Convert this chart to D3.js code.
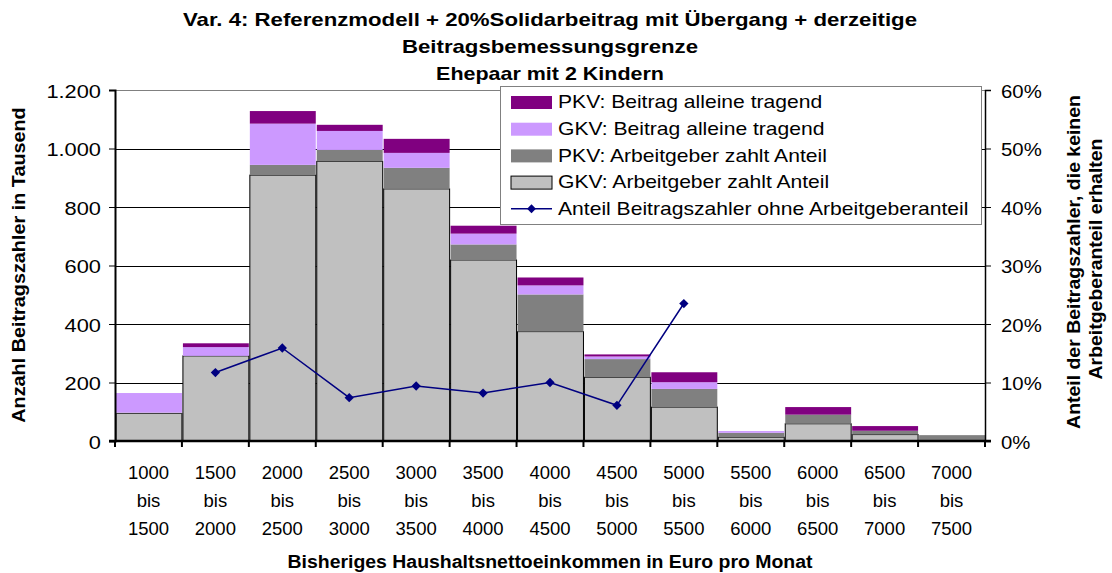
<!DOCTYPE html>
<html>
<head>
<meta charset="utf-8">
<script src="https://cdn.jsdelivr.net/npm/d3@7/dist/d3.min.js"></script>
<style>
  body { margin: 0; background: #fff; }
  svg { display: block; font-family: "Liberation Sans", Arial, sans-serif; }
</style>
</head>
<body>
<svg id="chart" width="1112" height="573"></svg>
<script>
// Einkommensklassen (Haushaltsnettoeinkommen, Euro pro Monat)
const categoryFrom = ["1000","1500","2000","2500","3000","3500","4000","4500","5000","5500","6000","6500","7000"];
const categoryTo   = ["1500","2000","2500","3000","3500","4000","4500","5000","5500","6000","6500","7000","7500"];

// Beitragszahler in Tausend, je Gruppe
const gkvArbeitgeber = [94, 291, 909, 956, 862, 619, 374, 218, 116, 13, 59, 22, 0];
const pkvArbeitgeber = [3, 0, 35, 39, 72, 53, 127, 62, 62, 15, 31, 13, 20];
const gkvAlleine     = [67, 30, 141, 65, 51, 37, 31, 9, 23, 6, 0, 0, 0];
const pkvAlleine     = [0, 13, 43, 21, 48, 27, 27, 7, 34, 0, 26, 16, 0];

// Anteil Beitragszahler ohne Arbeitgeberanteil (nur Klassen 1500-5500)
const anteilOhneAG = [null, 0.117, 0.159, 0.074, 0.094, 0.082, 0.100, 0.061, 0.235, null, null, null, null];

const leftTicks  = [0, 200, 400, 600, 800, 1000, 1200];
const rightTicks = [0, 0.1, 0.2, 0.3, 0.4, 0.5, 0.6];

const seriesNames = ["GKV: Arbeitgeber zahlt Anteil", "PKV: Arbeitgeber zahlt Anteil",
                     "GKV: Beitrag alleine tragend", "PKV: Beitrag alleine tragend"];
const seriesColors = ["#C0C0C0", "#808080", "#CC99FF", "#800080"];
const lineName = "Anteil Beitragszahler ohne Arbeitgeberanteil";
const lineColor = "#000080";

const svg = d3.select("#chart");
const plot = { left: 115, right: 985, top: 90, bottom: 441 };
const FONT = "Liberation Sans, Arial, sans-serif";

// Text horizontal etwas breiter laufen lassen
function widen(sel, factor) {
  sel.each(function () {
    const w = this.getComputedTextLength();
    d3.select(this).attr("textLength", w * factor).attr("lengthAdjust", "spacingAndGlyphs");
  });
  return sel;
}

const x = d3.scaleBand().domain(d3.range(categoryFrom.length))
  .range([plot.left, plot.right]).paddingInner(0).paddingOuter(0);
const y = d3.scaleLinear().domain([0, 1200]).range([plot.bottom, plot.top]);
const y2 = d3.scaleLinear().domain([0, 0.6]).range([plot.bottom, plot.top]);

// Gitterlinien
svg.append("g").selectAll("line").data(leftTicks.filter(d => d > 0)).join("line")
  .attr("x1", plot.left).attr("x2", plot.right)
  .attr("y1", d => Math.round(y(d)) + 0.5).attr("y2", d => Math.round(y(d)) + 0.5)
  .attr("stroke", d => d === 1200 ? "#808080" : "#000").attr("stroke-width", 1);

// Gestapelte Balken
const rows = categoryFrom.map((c, i) => ({
  i, a: gkvArbeitgeber[i], b: pkvArbeitgeber[i], c: gkvAlleine[i], d: pkvAlleine[i]
}));
const stacked = d3.stack().keys(["a", "b", "c", "d"])(rows);

stacked.forEach((layer, k) => {
  svg.append("g").selectAll("rect").data(layer.filter(s => s[1] - s[0] > 0)).join("rect")
    .attr("x", s => x(s.data.i) + 1)
    .attr("width", x.bandwidth() - 1)
    .attr("y", s => y(s[1]))
    .attr("height", s => y(s[0]) - y(s[1]))
    .attr("fill", seriesColors[k])
    .attr("stroke", k === 0 ? "#000" : "none")
    .attr("stroke-width", k === 0 ? 1 : 0);
});

// Linie (rechte Achse)
const lineData = anteilOhneAG.map((v, i) => ({ i, v })).filter(d => d.v !== null);
const line = d3.line().x(d => x(d.i) + x.bandwidth() / 2).y(d => y2(d.v));
svg.append("path").datum(lineData).attr("d", line)
  .attr("fill", "none").attr("stroke", lineColor).attr("stroke-width", 1.5);
const diamond = d3.symbol().type(d3.symbolDiamond2).size(55);
svg.append("g").selectAll("path").data(lineData).join("path")
  .attr("d", diamond)
  .attr("transform", d => `translate(${x(d.i) + x.bandwidth() / 2},${y2(d.v)})`)
  .attr("fill", lineColor);

// Achsen
const tickFont = "18.5px";
const leftAxis = d3.axisLeft(y).tickValues(leftTicks).tickSize(6).tickPadding(8)
  .tickFormat(d => d3.format(",")(d).replace(/,/g, "."));
const gL = svg.append("g").attr("transform", `translate(${plot.left},0)`).call(leftAxis);
gL.select(".domain").attr("stroke", "#000").attr("stroke-width", 2);
gL.selectAll(".tick line").attr("stroke", "#000");
widen(gL.selectAll("text").attr("font-size", tickFont).attr("fill", "#000")
  .attr("font-family", FONT).attr("dy", "0.38em"), 1.18);

const rightAxis = d3.axisRight(y2).tickValues(rightTicks).tickSize(6).tickPadding(10)
  .tickFormat(d3.format(".0%"));
const gR = svg.append("g").attr("transform", `translate(${plot.right},0)`).call(rightAxis);
gR.select(".domain").attr("stroke", "#000").attr("stroke-width", 1.5);
gR.selectAll(".tick line").attr("stroke", "#000");
widen(gR.selectAll("text").attr("font-size", tickFont).attr("fill", "#000")
  .attr("font-family", FONT).attr("dy", "0.38em"), 1.1);

// x-Achse mit Teilstrichen an den Klassengrenzen
svg.append("line").attr("x1", plot.left - 6).attr("x2", plot.right + 6)
  .attr("y1", plot.bottom).attr("y2", plot.bottom)
  .attr("stroke", "#000").attr("stroke-width", 2.5);
const bounds = d3.range(categoryFrom.length + 1).map(i => i < categoryFrom.length ? x(i) : plot.right);
svg.append("g").selectAll("line").data(bounds).join("line")
  .attr("x1", d => d).attr("x2", d => d)
  .attr("y1", plot.bottom).attr("y2", plot.bottom + 6)
  .attr("stroke", "#000").attr("stroke-width", 2);

const xl = svg.append("g").attr("font-size", tickFont).attr("text-anchor", "middle").attr("fill", "#000");
categoryFrom.forEach((c, i) => {
  const cx = x(i) + x.bandwidth() / 2;
  [c, "bis", categoryTo[i]].forEach((t, j) => {
    xl.append("text").attr("x", cx).attr("y", 479 + j * 27.8).text(t);
  });
});

// Titel
const title = [
  { t: "Var. 4: Referenzmodell + 20%Solidarbeitrag mit Übergang + derzeitige", k: 1.2 },
  { t: "Beitragsbemessungsgrenze", k: 1.2 },
  { t: "Ehepaar mit 2 Kindern", k: 1.16 }
];
title.forEach((d, j) => {
  widen(svg.append("text").attr("x", 550).attr("y", 25.7 + j * 27.2)
    .attr("text-anchor", "middle").attr("font-size", "18.5px").attr("font-weight", "bold")
    .text(d.t), d.k);
});

// Achsentitel
widen(svg.append("text").attr("x", 550).attr("y", 568).attr("text-anchor", "middle")
  .attr("font-size", "18px").attr("font-weight", "bold")
  .text("Bisheriges Haushaltsnettoeinkommen in Euro pro Monat"), 1.08);
widen(svg.append("text").attr("transform", "translate(25,265) rotate(-90)")
  .attr("text-anchor", "middle").attr("font-size", "18px").attr("font-weight", "bold")
  .text("Anzahl Beitragszahler in Tausend"), 1.1);
widen(svg.append("text").attr("transform", "translate(1080,262) rotate(-90)")
  .attr("text-anchor", "middle").attr("font-size", "18px").attr("font-weight", "bold")
  .text("Anteil der Beitragszahler, die keinen"), 1.08);
widen(svg.append("text").attr("transform", "translate(1101.5,259) rotate(-90)")
  .attr("text-anchor", "middle").attr("font-size", "18px").attr("font-weight", "bold")
  .text("Arbeitgeberanteil erhalten"), 1.08);

// Legende
const lg = svg.append("g");
lg.append("rect").attr("x", 500.5).attr("y", 86.5).attr("width", 481).attr("height", 138)
  .attr("fill", "#fff").attr("stroke", "#808080").attr("stroke-width", 1);
const legendItems = [
  { name: seriesNames[3], color: seriesColors[3] },
  { name: seriesNames[2], color: seriesColors[2] },
  { name: seriesNames[1], color: seriesColors[1] },
  { name: seriesNames[0], color: seriesColors[0], border: true },
  { name: lineName, line: true }
];
legendItems.forEach((it, j) => {
  const cy = 102 + j * 26.7;
  if (it.line) {
    lg.append("line").attr("x1", 511).attr("x2", 552).attr("y1", cy).attr("y2", cy)
      .attr("stroke", lineColor).attr("stroke-width", 1.5);
    lg.append("path").attr("d", d3.symbol().type(d3.symbolDiamond2).size(50)())
      .attr("transform", `translate(531.5,${cy})`).attr("fill", lineColor);
  } else {
    lg.append("rect").attr("x", 511).attr("y", cy - 6).attr("width", 41).attr("height", 13)
      .attr("fill", it.color).attr("stroke", it.border ? "#000" : "none").attr("stroke-width", 1);
  }
  widen(lg.append("text").attr("x", 558).attr("y", cy + 6.3).attr("font-size", "18.5px")
    .attr("fill", "#000").text(it.name), 1.14);
});
</script>
</body>
</html>
